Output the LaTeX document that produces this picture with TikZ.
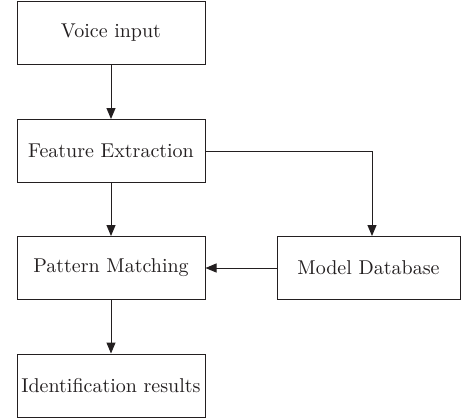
\documentclass[tikz,border=0pt]{standalone}
\usepackage{tikz}
\usetikzlibrary{arrows.meta}
\definecolor{ink}{RGB}{35,31,32}

\begin{document}
\begin{tikzpicture}[x=0.5pt, y=-0.5pt, color=ink,
    block/.style={draw, line width=0.5pt, minimum width=94pt, minimum height=31.5pt, inner sep=0pt, font=\normalsize},
    flow/.style={line width=0.5pt, -{Triangle[length=5.5pt, width=4.5pt]}}]
    \useasboundingbox (0,0) rectangle (461,419);
    \node[block] (voice) at (111,33) {Voice input};
    \node[block] (feat) at (111,151) {Feature Extraction};
    \node[block] (pattern) at (111,268) {Pattern Matching};
    \node[block] (result) at (111,385.5) {Identification results};
    \node[block, minimum width=91.5pt] (model) at (368.5,268) {Model Database};
    \coordinate (turn) at (372,151);
    \draw[flow] (voice) -- (feat);
    \draw[flow] (feat) -- (pattern);
    \draw[flow] (pattern) -- (result);
    \draw[flow] (feat.east) -- (turn) -- (turn |- model.north);
    \draw[flow] (model.west) -- (pattern.east);
\end{tikzpicture}
\end{document}
